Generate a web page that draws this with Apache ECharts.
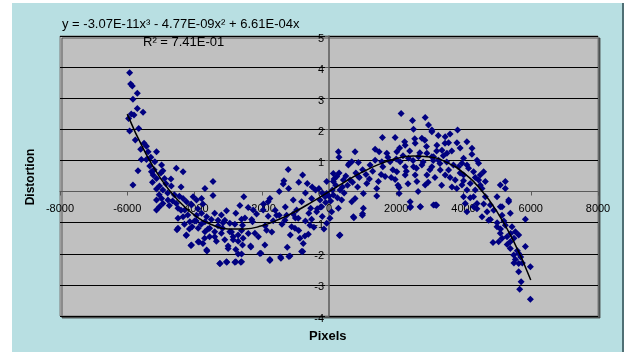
<!DOCTYPE html>
<html>
<head>
<meta charset="utf-8">
<script src="https://cdn.jsdelivr.net/npm/echarts@6/dist/echarts.min.js"></script>
<style>
html, body { margin: 0; padding: 0; background: #fff; }
#chart { width: 624px; height: 352px; }
</style>
</head>
<body>
<div id="chart"></div>
<script>
// points, [pixels, distortion]
var leftArm = [
    [-5930,3.82],[-5900,3.46],[-5850,3.39],[-5700,3.16],[-5830,2.97],[-5700,2.67],[-5530,2.55],[-5880,2.49],
    [-5960,2.35],[-5800,2.46],[-5930,1.95],[-5660,2.03],[-5760,1.66],[-5500,1.55],[-5430,1.46],[-5600,1.36],
    [-5380,1.28],[-5130,1.28],[-5580,1.03],[-5430,1.03],[-5180,0.96],[-4980,0.85],[-5330,0.82],[-5680,0.67],
    [-5280,0.64],[-4940,0.67],[-4540,0.75],[-4340,0.64],[-5230,0.53],[-5130,0.42],[-4890,0.42],[-5830,0.21],
    [-5040,0.18],[-4690,0.18],[-3690,0.10],[-3450,0.32],[-5130,0.08],[-4940,0.05],[-5300,1.10],[-5200,0.70],
    [-5000,0.60],[-4700,0.40],[-4400,0.15],[-4800,-0.05],[-4600,-0.10],
    [-5050,-0.10],[-4850,0.25],[-4650,-0.30],[-5250,0.30],[-4750,-0.45],[-4450,-0.15]
];
var trough = [
    [-3450,-0.13],[-5130,-0.27],[-4980,-0.22],[-4790,-0.27],[-5130,-0.59],[-5040,-0.49],[-4940,-0.38],[-4540,-0.38],
    [-4340,-0.22],[-4240,-0.33],[-4040,-0.17],[-3940,-0.27],[-3790,-0.22],[-4490,-0.54],[-4290,-0.59],[-4090,-0.43],
    [-4490,-0.86],[-4340,-0.81],[-4140,-0.97],[-3940,-0.76],[-3790,-0.70],[-3640,-0.81],[-3400,-0.70],[-3300,-0.92],
    [-4490,-1.18],[-4240,-1.40],[-3890,-1.18],[-3690,-1.29],[-3550,-1.18],[-3400,-1.29],[-3200,-1.34],[-4090,-1.72],
    [-3890,-1.61],[-3750,-1.67],[-3640,-1.88],[-3250,-2.31],[-3690,-0.97],[-4070,-1.13],[-4520,-1.23],[-4106,-1.73],
    [-4247,-1.41],[-3868,-1.62],[-3630,-1.91],[-3239,-2.31],[-3040,-2.27],[-2800,-2.27],[-2622,-2.27],[-2324,-1.78],
    [-2026,-1.98],[-1758,-2.22],[-1430,-2.14],[-1192,-2.09],[-781,-1.93],
    [-4400,-0.60],[-4200,-0.75],[-4000,-0.95],[-3800,-1.05],[-3600,-1.20],[-3500,-0.90],[-3400,-1.45],[-3300,-1.10],
    [-3100,-1.55],[-2900,-1.30],[-2800,-1.05],[-2700,-1.60],[-2600,-1.25],[-2500,-0.85],[-2400,-1.35],[-3700,-1.50],
    [-4100,-0.40],[-4300,-1.05],[-3900,-0.55],[-3200,-0.75],[-3000,-1.75],
    [-3950,-0.95],[-3750,-0.40],[-3550,-1.45],[-3350,-1.60],[-3150,-1.00],[-2850,-1.55],[-4150,-1.20]
];
var middle = [
    [-1213,0.71],[-784,0.53],[-646,0.26],[-1341,0.35],[-1361,0.24],[-1480,0.00],[-1758,-0.22],[-1808,-0.33],
    [-2533,-0.17],[-2404,-0.51],[-2771,-0.70],[-3048,-0.62],[-1063,-0.27],[-814,-0.33],[-516,-0.22],[-268,-0.27],
    [-119,-0.17],[-218,-0.49],[-367,-0.65],[-545,-0.54],[-962,-0.59],[-1063,-0.72],[-915,-0.86],[-1260,-0.76],
    [-1311,-0.92],[-1558,-0.76],[-1659,-0.94],[-1808,-0.79],[-1957,-0.59],[-2154,-0.72],[-2255,-0.59],[-2275,-0.97],
    [-2601,-0.89],[-2573,-1.08],[-2950,-1.02],[-3099,-0.92],[-3168,-1.18],[-2950,-1.29],[-2851,-1.45],[-2702,-1.40],
    [-2553,-1.50],[-2333,-1.75],[-2573,-1.72],[-2771,-1.86],[-3000,-1.83],[-2702,-2.01],[-2601,-2.01],[-2771,-2.26],
    [-2601,-2.26],[-3048,-2.26],[-2056,-1.99],[-1907,-1.72],[-1758,-2.18],[-1440,-2.10],[-1242,-1.79],[-1162,-2.07],
    [-814,-1.93],[-766,-1.67],[-864,-1.50],[-715,-1.43],[-616,-1.37],[-566,-1.08],[-516,-0.89],[-1013,-1.18],
    [-1112,-1.13],[-1857,-1.24],[-2205,-1.34],[-1480,-0.76],
    [-1900,-1.10],[-1700,-1.30],[-1600,-0.60],[-1400,-1.05],[-1300,-0.50],[-1150,-1.40],[-1000,-0.85],[-900,-1.25],
    [-700,-0.95],[-600,-0.70],[-450,-1.15],[-350,-0.55],[-200,-0.80],[-150,-1.20],[-2100,-1.45],[-2300,-0.90],
    [-1950,-0.40],[-2650,-0.45],[-1200,0.10],[-900,0.30],[-700,-0.05],[-500,0.15]
];
var hump = [
    [2145,2.51],[2483,2.28],[2861,2.38],[2513,2.00],[2960,2.14],[3059,1.92],[1590,1.74],[1967,1.74],
    [2265,1.49],[2563,1.55],[2762,1.71],[1371,1.36],[1490,1.28],[1719,1.23],[2017,1.28],[278,1.28],
    [298,1.10],[775,1.28],[676,0.96],[874,0.93],[576,0.85],[1222,0.85],[1371,1.01],[1570,0.96],
    [1818,0.96],[2116,0.96],[2364,1.07],[2662,1.12],[2910,1.23],[3059,1.12],[2265,0.80],[2513,0.80],
    [2762,0.85],[2017,0.64],[2265,0.53],[2563,0.53],[2910,0.53],[2613,0.32],[2861,0.21],[1967,0.39],
    [1669,0.48],[1469,0.32],[1420,0.10],[1123,0.26],[874,0.48],[626,0.37],[427,0.37],[129,0.58],
    [228,0.48],[129,0.32],[-69,0.32],[328,0.05],[129,-0.11],[-69,-0.06],[378,-0.27],[676,-0.33],
    [775,-0.22],[1022,-0.06],[1022,-0.54],[993,-0.76],[725,-0.81],[278,-0.54],[79,-0.65],[30,-0.86],
    [-69,-1.02],[328,-1.40],[1420,-0.14],[2086,0.13],[2086,-0.06],[2414,-0.33],[2414,-0.51],[2712,-0.49],
    [3108,-0.43],[310,-1.41],[998,-0.71],[739,-0.84],[3197,-0.44],[2720,-0.49],[2425,-0.49],
    [-300,0.10],[-200,-0.05],[100,0.05],[200,0.20],[400,0.15],[500,0.50],[700,0.30],[800,0.60],
    [900,0.45],[1000,0.70],[1100,0.55],[1200,0.40],[-400,0.05],[-100,-0.35],[50,-0.30],[150,0.40],
    [300,0.60],[600,0.90],[0,-0.15],[-250,-0.50],
    [1600,0.80],[1750,1.10],[1900,0.70],[2000,1.05],[2100,1.40],[2200,1.15],[2300,0.65],[2400,1.30],
    [2500,1.00],[2600,0.75],[2700,1.25],[2800,0.95],[2900,1.45],[3000,0.70],[3100,1.00],[3200,1.30],
    [3300,0.90],[3400,1.15],[3500,0.95],[2350,0.25],[2650,0.00],[2950,0.30],[3150,0.45],[3350,0.20],
    [1850,0.45],[2050,0.20],[2250,1.60],[2550,1.70],[2850,1.65],[3250,1.80],
    [450,-0.05],[550,0.20],[250,-0.20],[850,0.15],[1300,0.65],[1550,0.55]
];
var rightArm = [
    [3823,1.98],[3059,1.98],[3456,1.76],[3555,1.57],[3805,1.57],[4252,1.39],[3209,1.49],[3358,1.33],
    [3507,1.23],[3108,1.12],[3257,1.01],[4002,1.07],[3954,0.91],[4401,1.01],[4449,0.91],[3059,0.80],
    [3308,0.69],[3555,0.69],[3853,0.80],[4103,0.85],[3456,0.53],[3754,0.37],[4002,0.53],[4300,0.64],
    [4499,0.53],[4598,0.64],[3954,0.21],[4201,0.26],[4449,0.37],[4648,0.32],[3656,0.15],[4103,0.05],
    [4350,0.05],[4550,0.10],[5095,0.21],[5244,0.32],[5244,0.10],[4002,-0.17],[4300,-0.17],[4648,-0.17],
    [4997,-0.17],[5343,-0.27],[3158,-0.43],[4052,-0.38],[4401,-0.38],[4797,-0.43],[5146,-0.49],
    [3188,-0.43],[4103,-0.65],[4300,-0.49],[4550,-0.81],[4747,-0.92],[5095,-0.49],[5343,-0.33],[5146,-0.76],
    [5393,-0.70],[5840,-0.89],[4997,-1.13],[5244,-1.08],[5443,-1.13],[5095,-1.34],[5146,-1.50],[5294,-1.45],
    [5542,-1.29],[5641,-1.40],[4878,-1.64],[5045,-1.61],[5393,-1.61],[5840,-1.77],[5393,-1.83],[5492,-2.04],
    [5641,-1.99],[5542,-2.18],[5641,-2.31],[5989,-2.42],[5641,-2.58],[5713,-2.90],[5671,-3.14],[5989,-3.46],
    [4200,-0.20],[4400,-0.55],[4600,-0.40],[4700,-0.65],[4800,-0.90],[4900,-0.60],[5000,-1.00],[5100,-1.20],
    [5200,-0.95],[5300,-1.70],[5400,-1.35],[5500,-1.50],[5600,-1.90],[5700,-2.10],[5750,-2.30],[5500,-2.30],
    [3800,0.10],[4000,0.35],[4150,0.75],[4250,1.20],[4350,0.45],[4500,0.20],[3650,1.30],[3450,1.55],
    [3900,1.40],[4100,1.60],[3600,1.85],[3600,0.45],[3700,0.85],[3900,0.60]
];
// trendline
var trendX = [-6000,-5500,-5000,-4500,-4000,-3500,-3000,-2500,-2000,-1500,-1000,-500,0,500,1000,1500,2000,2500,3000,3500,4000,4500,5000,5500,6000];
var trendY = [2.49,1.33,0.41,-0.27,-0.76,-1.06,-1.20,-1.20,-1.10,-0.90,-0.64,-0.33,0,0.33,0.63,0.88,1.06,1.14,1.11,0.94,0.60,0.08,-0.65,-1.62,-2.84];
var xTicks = [-8000, 8000, 2000];
var yTicks = [-4, 5, 1];

var points = leftArm.concat(trough, middle, hump, rightArm);
var trend = trendX.map(function (x, i) { return [x, trendY[i]]; });

var font = 'Liberation Sans, Arial, sans-serif';
var plain = function (v) { return String(v); };
var chart = echarts.init(document.getElementById('chart'));
chart.setOption({
    animation: false,
    backgroundColor: '#fff',
    graphic: [
        { type: 'rect', shape: { x: 12, y: 3, width: 610, height: 349 }, style: { fill: '#B8DFE2' }, z: -10 },
        { type: 'rect', shape: { x: 622, y: 3, width: 2, height: 349 }, style: { fill: '#4F6F74' }, z: -10 },
        { type: 'text', left: 62, top: 18, style: { text: 'y = -3.07E-11x³ - 4.77E-09x² + 6.61E-04x', font: '13px ' + font, fill: '#000' }, z: 10 },
        { type: 'text', left: 143, top: 36, style: { text: 'R² = 7.41E-01', font: '13px ' + font, fill: '#000' }, z: 10 },
        { type: 'text', left: 309, top: 330, style: { text: 'Pixels', font: 'bold 13px ' + font, fill: '#000' } },
        { type: 'text', x: 31, y: 177, rotation: Math.PI / 2, style: { text: 'Distortion', font: 'bold 12px ' + font, fill: '#000', align: 'center', verticalAlign: 'middle' } }
    ],
    grid: {
        left: 60, right: 26, top: 36, bottom: 36,
        show: true,
        backgroundColor: '#C0C0C0',
        borderColor: '#7A7A7A',
        borderWidth: 1,
        shadowColor: 'rgba(60,60,60,0.8)',
        shadowOffsetX: 2,
        shadowOffsetY: 2
    },
    xAxis: {
        type: 'value',
        position: 'bottom',
        offset: -124.5,
        min: xTicks[0], max: xTicks[1], interval: xTicks[2],
        axisLine: { onZero: false, lineStyle: { color: '#5A5A5A', width: 1 } },
        axisTick: { show: true, length: 4, lineStyle: { color: '#5A5A5A' } },
        axisLabel: { color: '#000', fontFamily: font, fontSize: 11, margin: 12, formatter: plain },
        splitLine: { show: false }
    },
    yAxis: {
        type: 'value',
        position: 'left',
        offset: -269,
        min: yTicks[0], max: yTicks[1], interval: yTicks[2],
        axisLine: { onZero: false, lineStyle: { color: '#5A5A5A', width: 1.5 } },
        axisTick: { show: true, length: 4, lineStyle: { color: '#5A5A5A' } },
        axisLabel: {
            margin: 5,
            formatter: function (v) { return '{t|' + v + '}'; },
            rich: { t: { color: '#000', fontFamily: font, fontSize: 11, padding: [5, 0, 0, 0] } }
        },
        splitLine: { show: true, lineStyle: { color: '#000', width: 1 } }
    },
    series: [
        {
            type: 'scatter',
            data: points,
            symbol: 'diamond',
            symbolSize: 7,
            itemStyle: { color: '#000080', opacity: 1 },
            z: 2
        },
        {
            type: 'line',
            data: trend,
            smooth: true,
            showSymbol: false,
            lineStyle: { color: '#000', width: 1.5 },
            z: 3
        }
    ]
});
</script>
</body>
</html>
